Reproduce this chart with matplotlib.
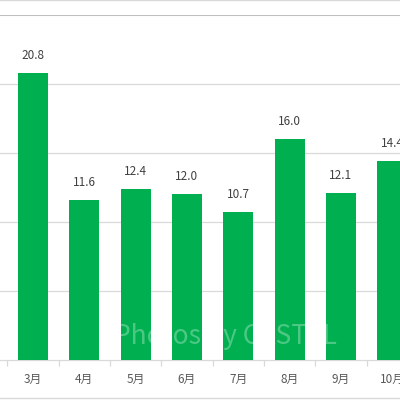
import matplotlib
matplotlib.use("Agg")
import matplotlib.pyplot as plt
from matplotlib.lines import Line2D

plt.rcParams['font.family'] = ['Noto Sans CJK JP', 'DejaVu Sans']

months = ['3月', '4月', '5月', '6月', '7月', '8月', '9月', '10月']
values = [20.8, 11.6, 12.4, 12.0, 10.7, 16.0, 12.1, 14.4]
grid_vals = [5, 10, 15, 20]

fig = plt.figure(figsize=(4, 4), dpi=100)
ax = fig.add_axes([0, 0.1, 1, 0.8625])

x = list(range(len(months)))
ax.bar(x, values, width=0.585, color='#00B050', zorder=3)
for xi, v in zip(x, values):
    ax.annotate(f'{v:.1f}', (xi, v), xytext=(0, 8), textcoords='offset points',
                ha='center', va='bottom', fontsize=8.5, color='#404040', zorder=4)

for g in grid_vals:
    ax.axhline(g, color='#d9d9d9', lw=0.9, zorder=1)
ax.axhline(25, color='#bfbfbf', lw=1.5, zorder=1)

for s in ['left', 'right', 'top']:
    ax.spines[s].set_visible(False)
ax.spines['bottom'].set_color('#d9d9d9')
ax.spines['bottom'].set_linewidth(0.9)
ax.set_yticks([])
ax.set_xticks(x)
ax.set_xticklabels(months, fontsize=8.5, color='#595959')
ax.tick_params(axis='x', length=0, pad=9)
ax.set_xticks([i - 0.5 for i in range(len(months) + 1)], minor=True)
ax.tick_params(axis='x', which='minor', length=4, color='#d9d9d9', width=0.9)
ax.set_xlim(-0.643, 7.15)
ax.set_ylim(0, 25)

ax.text(3.75, 1.7, 'Photos by CASTEL', ha='center', va='center', fontsize=19,
        color='white', alpha=0.3, zorder=5)

fig.add_artist(Line2D([0, 1], [0.999, 0.999], color='#d9d9d9', lw=1))
fig.add_artist(Line2D([0, 1], [0.005, 0.005], color='#d9d9d9', lw=1))

fig.savefig('out.png', dpi=100)
